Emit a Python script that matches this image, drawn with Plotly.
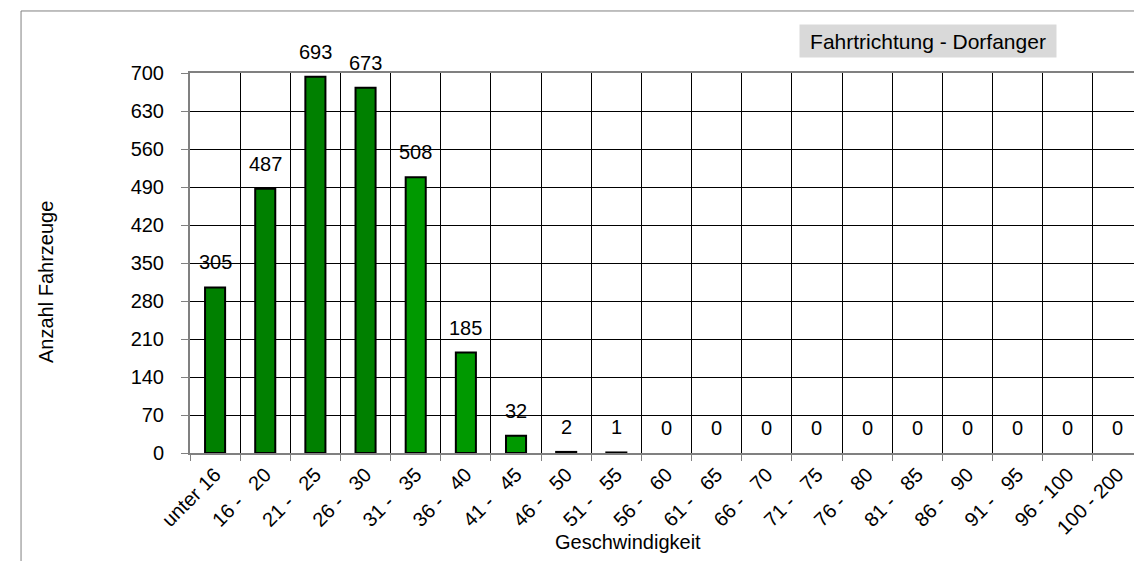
import plotly.graph_objects as go

NB = "\u00a0"
categories = ["unter 16", "16 -" + NB * 3 + "20", "21 -" + NB * 3 + "25", "26 -" + NB * 3 + "30",
              "31 -" + NB * 3 + "35", "36 -" + NB * 3 + "40", "41 -" + NB * 3 + "45",
              "46 -" + NB * 3 + "50", "51 -" + NB * 3 + "55", "56 -" + NB * 3 + "60",
              "61 -" + NB * 3 + "65", "66 -" + NB * 3 + "70", "71 -" + NB * 3 + "75",
              "76 -" + NB * 3 + "80", "81 -" + NB * 3 + "85", "86 -" + NB * 3 + "90",
              "91 -" + NB * 3 + "95", "96 - 100", "100 - 200"]
counts = [305, 487, 693, 673, 508, 185, 32, 2, 1, 0, 0, 0, 0, 0, 0, 0, 0, 0, 0]
y_ticks = [0, 70, 140, 210, 280, 350, 420, 490, 560, 630, 700]

FONT = "Liberation Sans, Arial, sans-serif"
dark_green = "#008000"
light_green = "#009900"
bar_colors = [dark_green if i < 4 else light_green for i in range(len(counts))]
line_widths = [2 if v > 0 else 0 for v in counts]

fig = go.Figure()
fig.add_trace(go.Bar(
    x=categories, y=counts,
    marker=dict(color=bar_colors, line=dict(color="black", width=line_widths)),
    width=0.4, hoverinfo="x+y", showlegend=False,
))

annotations = []
for c, v in zip(categories, counts):
    annotations.append(dict(x=c, y=v, xref="x", yref="y", text=str(v), showarrow=False,
                            xanchor="center", yanchor="bottom", yshift=12,
                            font=dict(family=FONT, size=20, color="black")))

annotations.append(dict(x=-0.1511, y=0.45, xref="paper", yref="paper",
                        xanchor="center", yanchor="middle",
                        text="Anzahl Fahrzeuge", textangle=-90, showarrow=False,
                        font=dict(family=FONT, size=20, color="black")))
annotations.append(dict(x=0.4596, y=-0.234, xref="paper", yref="paper",
                        xanchor="center", yanchor="middle",
                        text="Geschwindigkeit", showarrow=False,
                        font=dict(family=FONT, size=20, color="black")))
annotations.append(dict(x=0.7744, y=1.0842, xref="paper", yref="paper",
                        xanchor="center", yanchor="middle",
                        text="Fahrtrichtung - Dorfanger", showarrow=False,
                        bgcolor="#d9d9d9", width=256, height=32, borderpad=0,
                        font=dict(family=FONT, size=21, color="black")))

fig.update_layout(
    width=1142, height=561,
    margin=dict(l=182, r=7, t=65, b=116, autoexpand=False),
    paper_bgcolor="white", plot_bgcolor="white",
    font=dict(family=FONT, size=20, color="black"),
    bargap=0.6,
    annotations=annotations,
    shapes=[dict(type="rect", xref="paper", yref="paper",
                 x0=-0.1773, x1=1.02, y0=-0.35, y1=1.1632,
                 line=dict(color="#808080", width=1), fillcolor="rgba(0,0,0,0)", layer="below")],
)
fig.update_xaxes(
    type="category", tickson="boundaries", ticks="outside", ticklen=6, tickcolor="#808080",
    tickangle=-45, showgrid=True, gridcolor="black", gridwidth=1,
    showline=True, linecolor="#808080", linewidth=2, mirror=True,
    tickfont=dict(family=FONT, size=20, color="black"),
)
fig.update_yaxes(
    range=[0, 700], tickvals=y_ticks, ticks="outside", ticklen=7, tickcolor="#808080",
    showgrid=True, gridcolor="black", gridwidth=1,
    showline=True, linecolor="#808080", linewidth=2, mirror=True, zeroline=False,
    ticklabelstandoff=13,
    tickfont=dict(family=FONT, size=20, color="black"),
)

fig.write_html("out.html")
